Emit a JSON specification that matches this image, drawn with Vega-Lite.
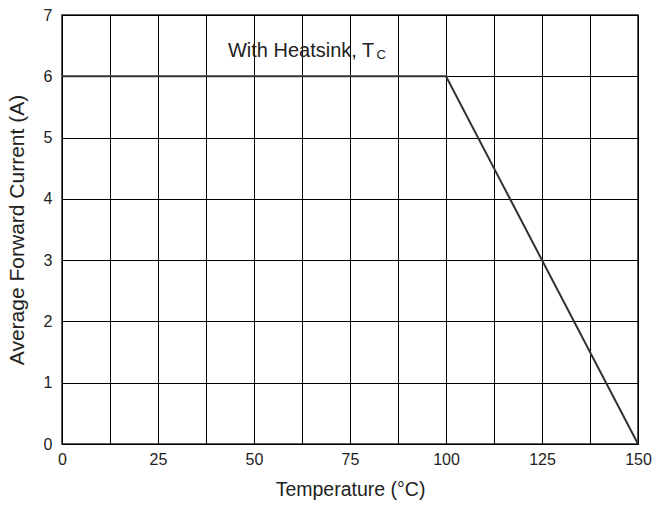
{
  "$schema": "https://vega.github.io/schema/vega-lite/v6.json",
  "width": 576,
  "height": 429,
  "padding": {"left": 62, "top": 15, "right": 18, "bottom": 65},
  "autosize": {"type": "none"},
  "background": "white",
  "config": {
    "font": "Liberation Sans",
    "view": {"stroke": "#222222", "strokeWidth": 1.5},
    "axis": {
      "grid": true,
      "gridColor": "black",
      "gridOpacity": 1,
      "gridWidth": 1,
      "domain": false,
      "ticks": false,
      "labelFont": "Liberation Sans",
      "labelFontSize": 16,
      "labelColor": "#222222",
      "titleFont": "Liberation Sans",
      "titleFontWeight": "normal",
      "titleColor": "#222222"
    }
  },
  "datasets": {
    "curve": [
      {"t": 0, "i": 6},
      {"t": 100, "i": 6},
      {"t": 150, "i": 0}
    ],
    "label": [
      {"t": 43.2, "i": 6.32, "txt": "With Heatsink, T"}
    ],
    "sub": [
      {"t": 81.9, "i": 6.29, "txt": "C"}
    ]
  },
  "layer": [
    {
      "data": {"name": "curve"},
      "mark": {"type": "line", "color": "#333333", "strokeWidth": 2, "clip": true},
      "encoding": {
        "x": {
          "field": "t", "type": "quantitative",
          "scale": {"domain": [0, 150], "nice": false, "zero": false},
          "axis": {
            "title": "Temperature (°C)",
            "titleFontSize": 19.5,
            "values": [0, 12.5, 25, 37.5, 50, 62.5, 75, 87.5, 100, 112.5, 125, 137.5, 150],
            "labelExpr": "datum.value % 25 == 0 ? datum.label : ''",
            "labelPadding": 7,
            "titlePadding": 13,
            "labelFlush": false
          }
        },
        "y": {
          "field": "i", "type": "quantitative",
          "scale": {"domain": [0, 7], "nice": false},
          "axis": {
            "title": "Average Forward Current (A)",
            "titleFontSize": 21,
            "format": "d",
            "values": [0, 1, 2, 3, 4, 5, 6, 7],
            "labelPadding": 10,
            "titlePadding": 16,
            "labelFlush": false
          }
        }
      }
    },
    {
      "data": {"name": "label"},
      "mark": {"type": "text", "align": "left", "baseline": "alphabetic", "color": "#222222", "font": "Liberation Sans", "fontSize": 20},
      "encoding": {
        "x": {"field": "t", "type": "quantitative"},
        "y": {"field": "i", "type": "quantitative"},
        "text": {"field": "txt"}
      }
    },
    {
      "data": {"name": "sub"},
      "mark": {"type": "text", "align": "left", "baseline": "alphabetic", "color": "#222222", "font": "Liberation Sans", "fontSize": 13},
      "encoding": {
        "x": {"field": "t", "type": "quantitative"},
        "y": {"field": "i", "type": "quantitative"},
        "text": {"field": "txt"}
      }
    }
  ]
}
